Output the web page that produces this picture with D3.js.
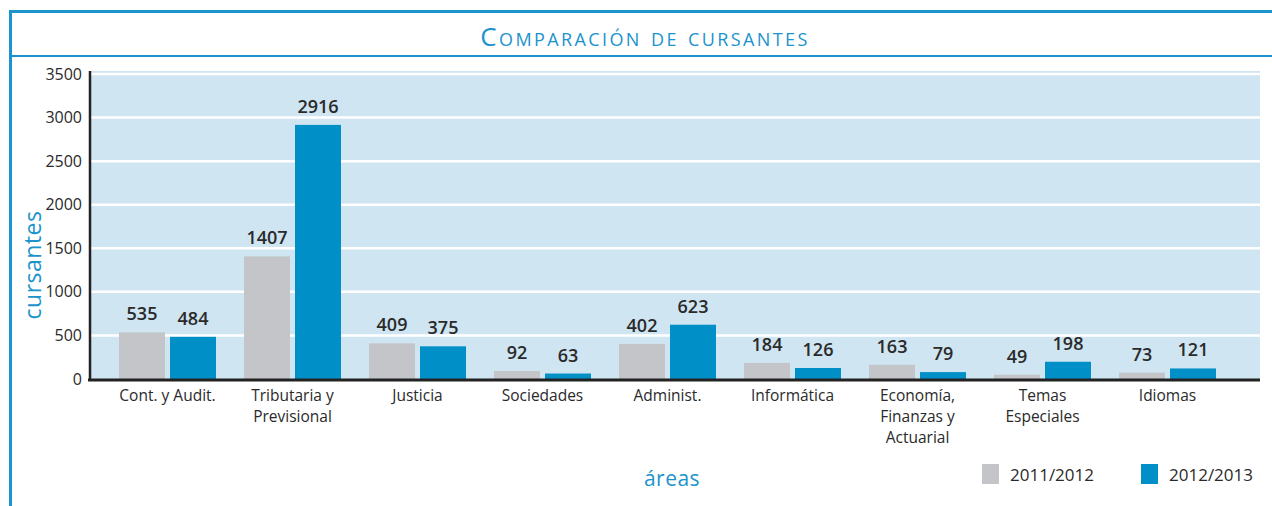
<!DOCTYPE html>
<html>
<head>
  <meta charset="UTF-8">
  <title>Comparación de cursantes</title>
  <script src="https://d3js.org/d3.v7.min.js"></script>
  <style>
    body { margin: 0; background: #fff; }
    svg { display: block; font-family: "Open Sans", "Noto Sans", sans-serif; }
  </style>
</head>
<body>

<div class="chart"></div>

<script>

  // data
  var areas = [
    ['Cont. y Audit.'],
    ['Tributaria y', 'Previsional'],
    ['Justicia'],
    ['Sociedades'],
    ['Administ.'],
    ['Informática'],
    ['Economía,', 'Finanzas y', 'Actuarial'],
    ['Temas', 'Especiales'],
    ['Idiomas']
  ];
  var periods = ['2011/2012', '2012/2013'];
  var cursantes2011 = [535, 1407, 409, 92, 402, 184, 163, 49, 73];
  var cursantes2013 = [484, 2916, 375, 63, 623, 126, 79, 198, 121];
  var yTicks = [0, 500, 1000, 1500, 2000, 2500, 3000, 3500];

  var colors = ['#c3c5c8', '#0090c7'];
  var blue = '#1b93cc';

  var W = 1272, H = 506;
  var plot = { left: 90, right: 1260, top: 71, bottom: 379 };

  var svg = d3.select('.chart')
    .append('svg')
      .attr('width', W)
      .attr('height', H);

  // frame
  svg.append('rect').attr('x', 9).attr('y', 10).attr('width', W - 9).attr('height', 3).attr('fill', blue);
  svg.append('rect').attr('x', 9).attr('y', 55).attr('width', W - 9).attr('height', 2).attr('fill', blue);
  svg.append('rect').attr('x', 9).attr('y', 10).attr('width', 3).attr('height', H - 10).attr('fill', blue);

  svg.append('text')
    .attr('x', 645)
    .attr('y', 46)
    .attr('text-anchor', 'middle')
    .style('font-size', '26px')
    .style('font-variant', 'small-caps')
    .style('letter-spacing', '2.4px')
    .style('fill', blue)
    .text('Comparación de cursantes');

  var yScale = d3.scaleLinear()
    .domain([0, 3500])
    .range([plot.bottom, 74]);

  var x0 = d3.scaleBand()
    .domain(d3.range(areas.length))
    .range([105, 1230])
    .paddingInner(0.224)
    .paddingOuter(0.112);

  var x1 = d3.scaleBand()
    .domain([0, 1])
    .range([0, x0.bandwidth()])
    .paddingInner(0.098);

  // background
  svg.append('rect')
    .attr('x', plot.left)
    .attr('y', plot.top)
    .attr('width', plot.right - plot.left)
    .attr('height', plot.bottom - plot.top)
    .attr('fill', '#cfe5f2');

  // white gridlines
  svg.append('g')
    .selectAll('line')
    .data(yTicks.filter(d => d > 0))
    .enter()
    .append('line')
      .attr('x1', plot.left)
      .attr('x2', plot.right)
      .attr('y1', d => yScale(d))
      .attr('y2', d => yScale(d))
      .attr('stroke', '#fff')
      .attr('stroke-width', 2.5);

  // bars
  var groups = svg.append('g')
    .selectAll('g')
    .data(areas.map((a, i) => [cursantes2011[i], cursantes2013[i]]))
    .enter()
    .append('g')
      .attr('transform', (d, i) => `translate(${x0(i)}, 0)`);

  groups.selectAll('rect')
    .data(d => d)
    .enter()
    .append('rect')
      .attr('x', (d, j) => x1(j))
      .attr('y', d => yScale(d))
      .attr('width', x1.bandwidth())
      .attr('height', d => plot.bottom - yScale(d))
      .attr('fill', (d, j) => colors[j]);

  groups.selectAll('text')
    .data(d => d)
    .enter()
    .append('text')
      .attr('x', (d, j) => x1(j) + x1.bandwidth() / 2)
      .attr('y', d => yScale(d) - 12)
      .attr('text-anchor', 'middle')
      .style('font-size', '18px')
      .style('font-weight', 600)
      .style('fill', '#2a2a2a')
      .text(d => d);

  // y axis
  var yAxis = svg.append('g')
    .attr('transform', `translate(${plot.left}, 0)`)
    .call(d3.axisLeft(yScale).tickValues(yTicks).tickFormat(d3.format('d')).tickSize(0).tickPadding(8));
  yAxis.select('.domain').remove();
  yAxis.selectAll('text')
    .style('font-size', '16px')
    .style('font-family', '"Open Sans", sans-serif')
    .style('fill', '#2a2a2a');

  svg.append('line')
    .attr('x1', plot.left).attr('x2', plot.left)
    .attr('y1', plot.top).attr('y2', plot.bottom + 1)
    .attr('stroke', '#222').attr('stroke-width', 2.5);
  svg.append('line')
    .attr('x1', plot.left - 2).attr('x2', plot.right)
    .attr('y1', plot.bottom + 1).attr('y2', plot.bottom + 1)
    .attr('stroke', '#222').attr('stroke-width', 3);

  // x labels
  var xLabels = svg.append('g')
    .selectAll('text')
    .data(areas)
    .enter()
    .append('text')
      .attr('x', (d, i) => x0(i) + x0.bandwidth() / 2)
      .attr('y', 401)
      .attr('text-anchor', 'middle')
      .style('font-size', '15.5px')
      .style('fill', '#2a2a2a');
  xLabels.selectAll('tspan')
    .data(d => d)
    .enter()
    .append('tspan')
      .attr('x', function () { return d3.select(this.parentNode).attr('x'); })
      .attr('dy', (d, k) => k === 0 ? 0 : 21)
      .text(d => d);

  // axis titles
  svg.append('text')
    .attr('transform', 'translate(41, 265) rotate(-90)')
    .attr('text-anchor', 'middle')
    .style('font-size', '23px')
    .style('letter-spacing', '0.5px')
    .style('fill', blue)
    .text('cursantes');

  svg.append('text')
    .attr('x', 672)
    .attr('y', 486)
    .attr('text-anchor', 'middle')
    .style('font-size', '21px')
    .style('letter-spacing', '0.5px')
    .style('fill', blue)
    .text('áreas');

  // legend
  var legend = svg.append('g')
    .selectAll('g')
    .data(periods)
    .enter()
    .append('g')
      .attr('transform', (d, i) => `translate(${982 + i * 159}, 464)`);
  legend.append('rect')
    .attr('width', 17)
    .attr('height', 20)
    .attr('fill', (d, i) => colors[i]);
  legend.append('text')
    .attr('x', 28)
    .attr('y', 17)
    .style('font-size', '17px')
    .style('fill', '#2a2a2a')
    .text(d => d);

</script>

</body>
</html>
